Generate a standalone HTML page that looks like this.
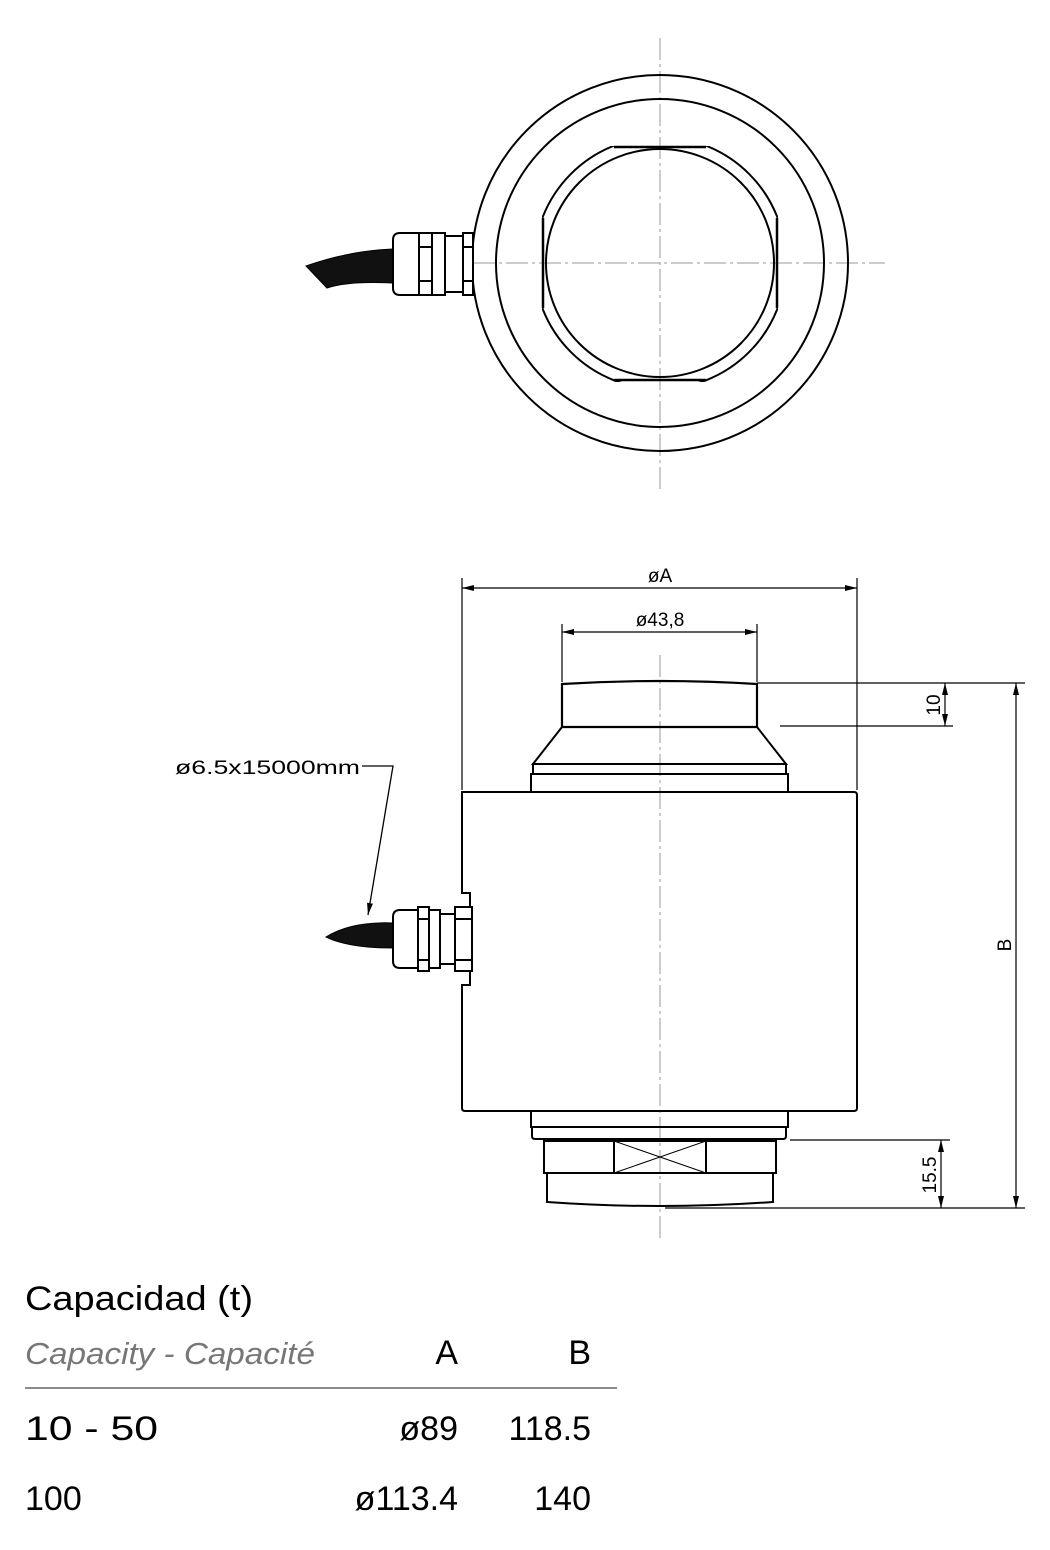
<!DOCTYPE html>
<html><head><meta charset="utf-8"><style>
html,body{margin:0;padding:0;background:#fff}
svg{display:block}
.t{font-family:"Liberation Sans",sans-serif}
</style></head><body>
<svg width="1050" height="1550" viewBox="0 0 1050 1550" xmlns="http://www.w3.org/2000/svg">
<defs>
<marker id="ar" viewBox="0 0 12 6" refX="12" refY="3" markerWidth="12" markerHeight="6" orient="auto-start-reverse" markerUnits="userSpaceOnUse"><path d="M0,0L12,3L0,6z" fill="#000"/></marker>
<clipPath id="sq"><rect x="542" y="146" width="236" height="236"/></clipPath>
</defs>
<g fill="none" stroke="#000">
<!-- center lines top view -->
<line x1="660" y1="38" x2="660" y2="490" stroke="#999" stroke-width="1" stroke-dasharray="22,4,3,4"/>
<line x1="440" y1="263" x2="885" y2="263" stroke="#999" stroke-width="1" stroke-dasharray="22,4,3,4"/>
<circle cx="660" cy="263" r="188" stroke-width="2"/>
<circle cx="660" cy="263" r="164" stroke-width="2"/>
<g clip-path="url(#sq)"><circle cx="660" cy="263" r="126" stroke-width="2"/></g>
<line x1="614" y1="147" x2="706" y2="147" stroke-width="2.5"/>
<line x1="614" y1="380" x2="706" y2="380" stroke-width="2.5"/>
<line x1="543" y1="218" x2="543" y2="308" stroke-width="2.5"/>
<line x1="777" y1="218" x2="777" y2="308" stroke-width="2.5"/>
<circle cx="660" cy="263" r="114" stroke-width="2"/>
<!-- top cable gland -->
<path d="M306,266 C340,254 370,250 393,249 L393,283 C370,282 345,282 327,288 Z" fill="#111" stroke-width="1"/>
<path d="M400,233 H419 V295 H400 Q393,295 393,288 V240 Q393,233 400,233 Z" stroke-width="2" fill="#fff"/>
<rect x="419" y="233" width="13" height="62" stroke-width="2" fill="#fff"/>
<line x1="419" y1="247" x2="432" y2="247" stroke-width="2"/><line x1="419" y1="281" x2="432" y2="281" stroke-width="2"/>
<rect x="432" y="233" width="13" height="62" stroke-width="2" fill="#fff"/>
<rect x="445" y="236" width="18" height="56" stroke-width="2" fill="#fff"/>
<rect x="463" y="233" width="10" height="62" stroke-width="2" fill="#fff"/>
<line x1="463" y1="247" x2="473" y2="247" stroke-width="2"/><line x1="463" y1="281" x2="473" y2="281" stroke-width="2"/>

<!-- side view center line -->
<line x1="660" y1="655" x2="660" y2="1240" stroke="#999" stroke-width="1" stroke-dasharray="22,4,3,4"/>
<!-- top cap -->
<path d="M562,684 Q660,678 757,684 V727 H562 Z" stroke-width="2.2"/>
<path d="M562,727 L533,764 H786 L757,727" stroke-width="2"/>
<rect x="533" y="764" width="253" height="10" stroke-width="2"/>
<rect x="531" y="774" width="257" height="18" stroke-width="2"/>
<!-- body -->
<path d="M462,792 H854 Q857,792 857,795 V1108 Q857,1111 854,1111 H465 Q462,1111 462,1108 V985 H470 V893 H462 Z" stroke-width="2"/>
<!-- bottom -->
<rect x="531" y="1111" width="257" height="16" stroke-width="2"/>
<path d="M532,1127 H786 V1136 Q786,1139 783,1139 H535 Q532,1139 532,1136 Z" stroke-width="2"/>
<rect x="544" y="1141" width="232" height="32" stroke-width="2"/>
<rect x="614" y="1141" width="92" height="32" stroke-width="2"/>
<path d="M614,1141 L706,1173 M706,1141 L614,1173" stroke-width="1"/>
<path d="M547,1173 V1202 Q660,1210 773,1202 V1173" stroke-width="2"/>
<!-- side cable gland -->
<path d="M326,937 C345,925 370,922 393,923 L393,948 C370,948 350,946 333,940 Z" fill="#111" stroke-width="1"/>
<path d="M400,910 H418 V968 H400 Q393,968 393,961 V917 Q393,910 400,910 Z" stroke-width="2" fill="#fff"/>
<rect x="418" y="907" width="11" height="64" stroke-width="2" fill="#fff"/>
<line x1="418" y1="919" x2="429" y2="919" stroke-width="2"/><line x1="418" y1="960" x2="429" y2="960" stroke-width="2"/>
<rect x="429" y="910" width="11" height="58" stroke-width="2" fill="#fff"/>
<rect x="440" y="914" width="15" height="50" stroke-width="2" fill="#fff"/>
<rect x="455" y="907" width="17" height="64" stroke-width="2" fill="#fff"/>
<line x1="455" y1="919" x2="472" y2="919" stroke-width="2"/><line x1="455" y1="960" x2="472" y2="960" stroke-width="2"/>
<!-- leader -->
<polyline points="362,766 393,766 368,915" stroke-width="1.3" marker-end="url(#ar)"/>

<!-- dimensions -->
<g stroke-width="1.2">
<line x1="462" y1="578" x2="462" y2="790"/>
<line x1="857" y1="578" x2="857" y2="790"/>
<line x1="462" y1="588" x2="857" y2="588" marker-start="url(#ar)" marker-end="url(#ar)"/>
<line x1="562" y1="624" x2="562" y2="682"/>
<line x1="757" y1="624" x2="757" y2="682"/>
<line x1="562" y1="632" x2="757" y2="632" marker-start="url(#ar)" marker-end="url(#ar)"/>
<line x1="757" y1="683" x2="1025" y2="683"/>
<line x1="780" y1="726" x2="953" y2="726"/>
<line x1="945" y1="683" x2="945" y2="726" marker-start="url(#ar)" marker-end="url(#ar)"/>
<line x1="790" y1="1140" x2="950" y2="1140"/>
<line x1="665" y1="1208" x2="1025" y2="1208"/>
<line x1="941" y1="1140" x2="941" y2="1208" marker-start="url(#ar)" marker-end="url(#ar)"/>
<line x1="1016" y1="683" x2="1016" y2="1208" marker-start="url(#ar)" marker-end="url(#ar)"/>
</g>
</g>
<g class="t" fill="#000" font-size="19">
<text x="660" y="582" text-anchor="middle">øA</text>
<text x="660" y="626" text-anchor="middle">ø43,8</text>
<text x="175" y="774" textLength="185" lengthAdjust="spacingAndGlyphs">ø6.5x15000mm</text>
<text transform="translate(940,705) rotate(-90)" text-anchor="middle">10</text>
<text transform="translate(936,1175) rotate(-90)" text-anchor="middle">15.5</text>
<text transform="translate(1011,945) rotate(-90)" text-anchor="middle">B</text>
</g>
<g class="t" font-size="34">
<text x="25" y="1310" textLength="228" lengthAdjust="spacingAndGlyphs">Capacidad (t)</text>
<text x="25" y="1364" font-style="italic" fill="#777" font-size="31" textLength="290" lengthAdjust="spacingAndGlyphs">Capacity - Capacité</text>
<text x="458" y="1364" text-anchor="end">A</text>
<text x="591" y="1364" text-anchor="end">B</text>
<text x="25" y="1440" textLength="133" lengthAdjust="spacingAndGlyphs">10 - 50</text>
<text x="458" y="1440" text-anchor="end">ø89</text>
<text x="591" y="1440" text-anchor="end">118.5</text>
<text x="25" y="1510">100</text>
<text x="458" y="1510" text-anchor="end">ø113.4</text>
<text x="591" y="1510" text-anchor="end">140</text>
</g>
<line x1="25" y1="1388" x2="617" y2="1388" stroke="#666" stroke-width="1.5"/>
</svg>
</body></html>
